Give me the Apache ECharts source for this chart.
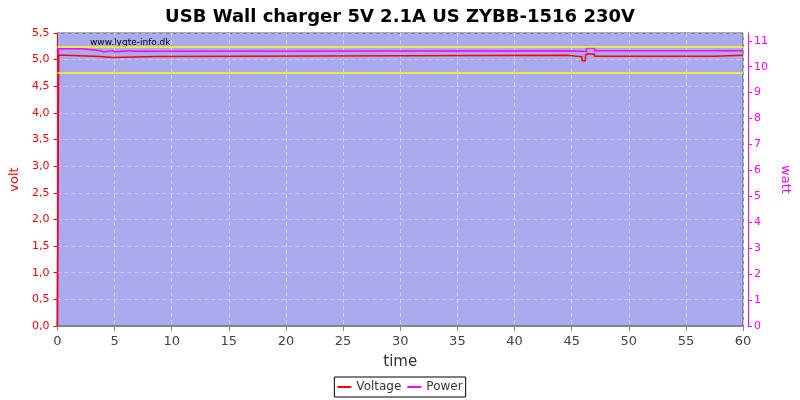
<!DOCTYPE html>
<html>
<head>
<meta charset="utf-8">
<script src="https://cdn.jsdelivr.net/npm/echarts@6/dist/echarts.min.js"></script>
<style>html,body{margin:0;padding:0;background:#fff}#c{width:800px;height:400px}</style>
</head>
<body>
<div id="c"></div>
<script>
// time breakpoints (s) and values (each value holds until the next breakpoint)
var voltTime  = [0, 0.1, 0.7, 3.7, 4.8, 8.7, 44.7, 45.9, 46.2, 46.3, 47.0, 57.5, 60];
var voltValue = [0, 5.08, 5.06, 5.04, 5.06, 5.08, 5.055, 4.98, 5.06, 5.105, 5.063, 5.08, 5.08];
var powerTime  = [0, 0.1, 2.2, 3.8, 4.0, 4.8, 5.0, 6.4, 6.6, 44.7, 46.3, 47.0, 60];
var powerValue = [0, 10.69, 10.62, 10.57, 10.62, 10.58, 10.62, 10.60, 10.62, 10.59, 10.72, 10.62, 10.62];
var limitLines = [4.75, 5.25];
var wattTicks = [0,1,2,3,4,5,6,7,8,9,10,11];

function stepPairs(t, v){
  var out = [];
  for (var i = 0; i < t.length; i++) {
    if (i > 0) out.push([t[i], v[i-1]]);
    out.push([t[i], v[i]]);
  }
  return out;
}

var chart = echarts.init(document.getElementById('c'));
chart.setOption({
  animation: false,
  backgroundColor: '#fff',
  title: {
    text: 'USB Wall charger 5V 2.1A US ZYBB-1516 230V',
    left: 'center', top: 3,
    textStyle: {fontFamily: 'DejaVu Sans', fontWeight: 'bold', fontSize: 18, color: '#000'}
  },
  graphic: [{
    type: 'text', left: 90, top: 38,
    style: {text: 'www.lygte-info.dk', fontFamily: 'DejaVu Sans', fontSize: 9, fill: '#000'}
  }],
  legend: {
    bottom: 3, left: 'center',
    data: ['Voltage', 'Power'],
    icon: 'rect', itemWidth: 14, itemHeight: 2, itemGap: 6,
    borderColor: '#000', borderWidth: 1, padding: [4, 3], borderRadius: 0,
    textStyle: {fontFamily: 'DejaVu Sans', fontSize: 12, color: '#333'}
  },
  grid: {
    left: 55, right: 55, top: 33, bottom: 74,
    show: true, backgroundColor: '#aaaaee', borderColor: '#555', borderWidth: 1
  },
  xAxis: {
    type: 'value', min: 0, max: 60, interval: 5,
    name: 'time', nameLocation: 'middle', nameGap: 25,
    nameTextStyle: {fontFamily: 'DejaVu Sans', fontSize: 15, color: '#333'},
    offset: 4,
    axisLine: {lineStyle: {color: '#888'}},
    axisTick: {length: 5, lineStyle: {color: '#888'}},
    axisLabel: {fontFamily: 'DejaVu Sans', fontSize: 13, color: '#444', margin: 5},
    splitLine: {show: true, lineStyle: {color: 'rgba(225,225,255,0.7)', type: [4, 3]}}
  },
  yAxis: [{
    type: 'value', min: 0, max: 5.5, interval: 0.5, position: 'left',
    name: 'volt', nameLocation: 'middle', nameGap: 34, nameRotate: 90,
    nameTextStyle: {fontFamily: 'DejaVu Sans', fontSize: 13, color: '#ff0000'},
    offset: 2,
    axisLine: {show: true, lineStyle: {color: '#ff0000'}},
    axisTick: {show: true, length: 4, lineStyle: {color: '#ff0000'}},
    axisLabel: {fontFamily: 'DejaVu Sans', fontSize: 11, color: '#ff0000', margin: 6,
      formatter: function(v){ return v.toFixed(1).replace('.', ','); }},
    splitLine: {show: true, lineStyle: {color: 'rgba(225,225,255,0.55)', type: [4, 3]}}
  }, {
    type: 'value', min: 0, max: 11.3, position: 'right',
    name: 'watt', nameLocation: 'middle', nameGap: 28, nameRotate: -90,
    nameTextStyle: {fontFamily: 'DejaVu Sans', fontSize: 13, color: '#ff00ff'},
    offset: 5,
    axisLine: {show: true, lineStyle: {color: '#ff00ff'}},
    axisTick: {show: true, length: 4, customValues: wattTicks, lineStyle: {color: '#ff00ff'}},
    axisLabel: {fontFamily: 'DejaVu Sans', fontSize: 11, color: '#ff00ff', margin: 6, customValues: wattTicks},
    splitLine: {show: false}
  }],
  series: [{
    name: 'Voltage', type: 'line', yAxisIndex: 0,
    data: stepPairs(voltTime, voltValue),
    showSymbol: false, color: '#ff0000',
    lineStyle: {width: 1.5, color: '#ff0000'},
    markLine: {
      silent: true, symbol: 'none', label: {show: false},
      lineStyle: {color: '#ffff00', width: 1.5, type: 'solid'},
      data: limitLines.map(function(v){ return {yAxis: v}; })
    },
    z: 3
  }, {
    name: 'Power', type: 'line', yAxisIndex: 1,
    data: stepPairs(powerTime, powerValue),
    showSymbol: false, color: '#ff00ff',
    lineStyle: {width: 1.5, color: '#ff00ff'},
    z: 2
  }]
});
</script>
</body>
</html>
